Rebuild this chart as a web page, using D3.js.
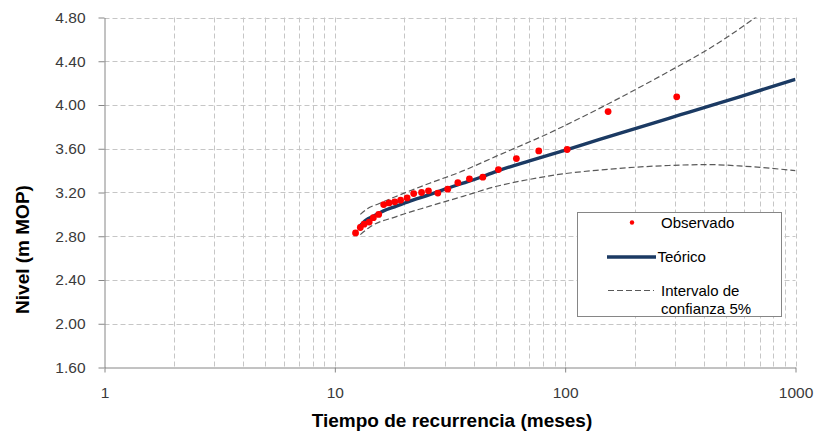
<!DOCTYPE html>
<html>
<head>
<meta charset="utf-8">
<script src="https://cdn.jsdelivr.net/npm/d3@7"></script>
<style>
  html, body { margin: 0; padding: 0; background: #ffffff; }
  svg { display: block; }
  text { font-family: "Liberation Sans", Arial, sans-serif; }
</style>
</head>
<body>
<svg id="chart" width="816" height="432"></svg>
<script>
// Return period (months) and level (m MOP) of the observed events
const obsPeriod = [12.3, 12.9, 13.4, 14.1, 14.7, 15.5, 16.3, 17.2, 18.2, 19.3, 20.6, 22.0, 23.8, 25.5, 28.0, 30.9, 34.2, 38.4, 43.9, 51.3, 61.4, 76.8, 102, 153.6, 305];
const obsLevel  = [2.83, 2.88, 2.91, 2.93, 2.97, 3.00, 3.09, 3.105, 3.115, 3.13, 3.15, 3.19, 3.20, 3.215, 3.195, 3.23, 3.29, 3.325, 3.34, 3.41, 3.51, 3.58, 3.593, 3.94, 4.075];

// Fitted (theoretical) curve
const fitPeriod = [12.8, 13.7, 14.6, 16.2, 18.5, 21.8, 25.8, 30.5, 36, 42.4, 51.3, 70, 102, 140, 208, 282, 343, 567, 1000];
const fitLevel  = [2.89, 2.95, 2.98, 3.03, 3.075, 3.13, 3.18, 3.235, 3.285, 3.335, 3.40, 3.49, 3.593, 3.683, 3.794, 3.878, 3.933, 4.073, 4.235];

// 5% confidence band, upper limit
const upPeriod = [12.9, 13.8, 15.6, 18.5, 25.8, 34.8, 50, 90.7, 111, 152, 301, 392, 670, 760];
const upLevel  = [3.00, 3.05, 3.10, 3.165, 3.285, 3.385, 3.53, 3.77, 3.86, 4.005, 4.34, 4.475, 4.80, 4.885];

// 5% confidence band, lower limit
const lowPeriod = [12.9, 14.2, 18.5, 25.8, 36, 50, 70, 97.5, 140, 282, 420, 600, 1000];
const lowLevel  = [2.815, 2.885, 2.98, 3.075, 3.165, 3.255, 3.32, 3.37, 3.405, 3.447, 3.455, 3.44, 3.40];

// Axis ticks and labels
const xTicks = [1, 10, 100, 1000];
const yTicks = [1.6, 2.0, 2.4, 2.8, 3.2, 3.6, 4.0, 4.4, 4.8];
const xTitle = "Tiempo de recurrencia (meses)";
const yTitle = "Nivel (m MOP)";
const legendLabels = ["Observado", "Teórico", ["Intervalo de", "confianza 5%"]];

const COL_FIT = "#1b3a63";
const COL_OBS = "#ff0000";
const COL_BAND = "#595959";
const COL_GRID = "#c6c6c6";
const COL_AXIS = "#868686";
const COL_TEXT = "#3a3a3a";

const svg = d3.select("#chart");
const plot = { left: 104.5, right: 795.5, top: 17.5, bottom: 367.5 };

const x = d3.scaleLog().domain([1, 1000]).range([plot.left, plot.right]);
const y = d3.scaleLinear().domain([1.6, 4.8]).range([plot.bottom, plot.top]);

svg.append("defs").append("clipPath").attr("id", "plotClip")
  .append("rect")
  .attr("x", plot.left).attr("y", plot.top)
  .attr("width", plot.right - plot.left).attr("height", plot.bottom - plot.top);

// Grid: minor log lines in every decade and the horizontal level lines
const xGrid = [];
for (const base of [1, 10, 100]) for (let m = 2; m <= 10; m++) xGrid.push(base * m);

const grid = svg.append("g");
grid.selectAll("line.vx").data(xGrid).join("line")
  .attr("x1", d => Math.round(x(d)) + 0.5).attr("x2", d => Math.round(x(d)) + 0.5)
  .attr("y1", plot.top).attr("y2", plot.bottom)
  .attr("stroke", COL_GRID).attr("stroke-width", 1).attr("stroke-dasharray", "5,3");
grid.selectAll("line.hy").data(yTicks.slice(1)).join("line")
  .attr("x1", plot.left).attr("x2", plot.right)
  .attr("y1", d => Math.round(y(d)) + 0.5).attr("y2", d => Math.round(y(d)) + 0.5)
  .attr("stroke", COL_GRID).attr("stroke-width", 1).attr("stroke-dasharray", "5,3");

// Axes
const yAxis = svg.append("g").attr("transform", `translate(${plot.left},0)`)
  .call(d3.axisLeft(y).tickValues(yTicks).tickFormat(d3.format(".2f"))
    .tickSize(6).tickSizeOuter(0).tickPadding(13));
const xAxis = svg.append("g").attr("transform", `translate(0,${plot.bottom})`)
  .call(d3.axisBottom(x).tickValues(xTicks).tickFormat(d3.format("d"))
    .tickSize(5).tickSizeOuter(0).tickPadding(14));
for (const ax of [xAxis, yAxis]) {
  ax.select(".domain").attr("stroke", COL_AXIS);
  ax.selectAll(".tick line").attr("stroke", COL_AXIS);
  ax.selectAll(".tick text").attr("fill", COL_TEXT)
    .style("font-family", '"Liberation Sans", Arial, sans-serif').style("font-size", "15.5px");
}

// Series
const zip = (a, b) => a.map((v, i) => [v, b[i]]);
const line = d3.line().x(d => x(d[0])).y(d => y(d[1])).curve(d3.curveMonotoneX);
const series = svg.append("g").attr("clip-path", "url(#plotClip)");

series.append("path").datum(zip(upPeriod, upLevel))
  .attr("d", line).attr("fill", "none").attr("stroke", COL_BAND)
  .attr("stroke-width", 1.2).attr("stroke-dasharray", "6,3");
series.append("path").datum(zip(lowPeriod, lowLevel))
  .attr("d", line).attr("fill", "none").attr("stroke", COL_BAND)
  .attr("stroke-width", 1.2).attr("stroke-dasharray", "6,3");
series.append("path").datum(zip(fitPeriod, fitLevel))
  .attr("d", line).attr("fill", "none").attr("stroke", COL_FIT)
  .attr("stroke-width", 3.4).attr("stroke-linejoin", "round");
series.selectAll("circle").data(zip(obsPeriod, obsLevel)).join("circle")
  .attr("cx", d => x(d[0])).attr("cy", d => y(d[1])).attr("r", 3.4)
  .attr("fill", COL_OBS);

// Axis titles
svg.append("text")
  .attr("x", (plot.left + plot.right) / 2 + 2).attr("y", 427)
  .attr("text-anchor", "middle").attr("fill", "#000")
  .style("font-size", "19px").style("font-weight", "bold")
  .text(xTitle);
svg.append("text")
  .attr("transform", `translate(29,${(plot.top + plot.bottom) / 2 + 57}) rotate(-90)`)
  .attr("text-anchor", "middle").attr("fill", "#000")
  .style("font-size", "19px").style("font-weight", "bold")
  .text(yTitle);

// Legend
const lg = svg.append("g");
lg.append("rect").attr("x", 577.5).attr("y", 212.5).attr("width", 204).attr("height", 104)
  .attr("fill", "#fff").attr("stroke", COL_AXIS).attr("stroke-width", 1);
lg.append("circle").attr("cx", 632).attr("cy", 222.5).attr("r", 2.2).attr("fill", COL_OBS);
lg.append("line").attr("x1", 607).attr("x2", 656).attr("y1", 257).attr("y2", 257)
  .attr("stroke", COL_FIT).attr("stroke-width", 3.4);
lg.append("line").attr("x1", 608).attr("x2", 654).attr("y1", 290.5).attr("y2", 290.5)
  .attr("stroke", COL_BAND).attr("stroke-width", 1.2).attr("stroke-dasharray", "6,3");
const lgText = (str, tx, ty) => lg.append("text").attr("x", tx).attr("y", ty)
  .attr("dominant-baseline", "central").attr("fill", "#000")
  .style("font-size", "15px").text(str);
lgText(legendLabels[0], 661, 222);
lgText(legendLabels[1], 657.5, 256.5);
lgText(legendLabels[2][0], 661, 290);
lgText(legendLabels[2][1], 661, 308);
</script>
</body>
</html>
